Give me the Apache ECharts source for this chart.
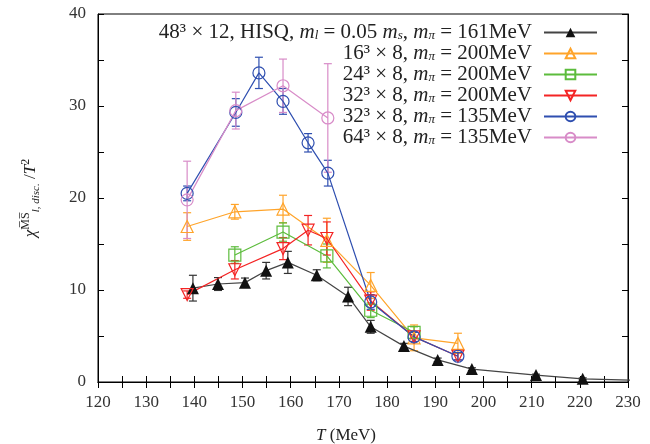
<!DOCTYPE html>
<html>
<head>
<meta charset="utf-8">
<script src="https://cdn.jsdelivr.net/npm/echarts@6/dist/echarts.min.js"></script>
<style>
  html, body { margin: 0; padding: 0; background: #fff; }
  #main { width: 650px; height: 444px; }
</style>
</head>
<body>
<div id="main"></div>
<script>
// 48^3 x 12 HISQ
const T48 = [139.7, 144.9, 150.5, 154.9, 159.4, 165.4, 171.9, 176.6, 183.5, 190.5, 197.6, 210.9, 220.6, 235];
const chi48 = [10.2, 10.65, 10.8, 12.1, 13.0, 11.6, 9.3, 6.0, 3.9, 2.4, 1.4, 0.75, 0.35, 0.15];
const err48 = [1.4, 0.7, 0.5, 0.9, 1.2, 0.6, 1.0, 0.7, 0.3, 0.2, 0.15, 0.1, 0.1, 0];

// 16^3 x 8, 200MeV
const T16 = [138.5, 148.4, 158.4, 167.5, 176.6, 185.6, 194.7];
const chi16 = [16.9, 18.5, 18.8, 15.4, 10.5, 4.8, 4.2];
const err16 = [1.5, 0.8, 1.5, 2.4, 1.4, 1.4, 1.1];

// 24^3 x 8, 200MeV
const T24 = [148.4, 158.4, 167.5, 176.6, 185.6];
const chi24 = [13.8, 16.3, 13.7, 7.8, 5.4];
const err24 = [0.9, 1.0, 1.3, 0.8, 0.6];

// 32^3 x 8, 200MeV
const T32a = [138.5, 148.4, 158.4, 163.6, 167.5, 176.6, 185.6, 194.7];
const chi32a = [9.5, 12.2, 14.5, 16.5, 15.6, 8.8, 4.9, 2.8];
const err32a = [0.4, 1.0, 1.2, 1.6, 1.8, 1.0, 0.5, 0.4];

// 32^3 x 8, 135MeV
const T32b = [138.5, 148.6, 153.4, 158.4, 163.6, 167.7, 176.6, 185.6, 194.7];
const chi32b = [20.5, 29.3, 33.6, 30.5, 26.0, 22.7, 8.7, 4.9, 2.8];
const err32b = [0.8, 1.5, 1.7, 1.4, 1.0, 1.4, 0.8, 0.5, 0.4];

// 64^3 x 8, 135MeV
const T64 = [138.5, 148.6, 158.4, 167.7];
const chi64 = [19.8, 29.5, 32.2, 28.7];
const err64 = [4.2, 2.0, 2.9, 5.9];

const names = ['hisq48', 'n16', 'n24', 'n32a', 'n32b', 'n64'];
const labels = {
  hisq48: '48³ × 12, HISQ, {i|m}{sub|l} = 0.05 {i|m}{sub|s}, {i|m}{sub|π} = 161MeV',
  n16: '16³ × 8, {i|m}{sub|π} = 200MeV',
  n24: '24³ × 8, {i|m}{sub|π} = 200MeV',
  n32a: '32³ × 8, {i|m}{sub|π} = 200MeV',
  n32b: '32³ × 8, {i|m}{sub|π} = 135MeV',
  n64: '64³ × 8, {i|m}{sub|π} = 135MeV'
};

const serif = 'Liberation Serif';

function pairs(xs, ys) { return xs.map((x, i) => [x, ys[i]]); }
function triples(xs, ys, es) { return xs.map((x, i) => [x, ys[i], es[i]]); }

function errBar(params, api) {
  const x = api.value(0), y = api.value(1), e = api.value(2);
  if (!e) return null;
  const top = api.coord([x, y + e]);
  const bot = api.coord([x, y - e]);
  const c = api.visual('color');
  const w = 4;
  const st = { stroke: c, lineWidth: 1.2 };
  return {
    type: 'group',
    children: [
      { type: 'line', shape: { x1: top[0], y1: top[1], x2: bot[0], y2: bot[1] }, style: st },
      { type: 'line', shape: { x1: top[0] - w, y1: top[1], x2: top[0] + w, y2: top[1] }, style: st },
      { type: 'line', shape: { x1: bot[0] - w, y1: bot[1], x2: bot[0] + w, y2: bot[1] }, style: st }
    ]
  };
}

function lineSeries(name, data, color, lineColor, symbol, rotate, filled) {
  return {
    name: name, type: 'line', data: data,
    symbol: symbol, symbolSize: 12, symbolRotate: rotate,
    lineStyle: { color: lineColor, width: 1.2 },
    itemStyle: filled ? { color: color } : { color: 'rgba(255,255,255,0)', borderColor: color, borderWidth: 1.2 },
    z: 4
  };
}
function errSeries(name, data, color) {
  return {
    name: name + '_err', type: 'custom', data: data,
    renderItem: errBar, itemStyle: { color: color },
    encode: { x: 0, y: 1 }, z: 3, clip: true
  };
}

const cBlack = '#111111', cOrange = '#ffa42a', cGreen = '#5cbc3c', cRed = '#f42424', cBlue = '#2f4fb0', cPink = '#d88cc8';

const chart = echarts.init(document.getElementById('main'));
const option = {
  backgroundColor: '#fff',
  animation: false,
  grid: { left: 98, right: 22, top: 14, bottom: 62, show: true, borderColor: '#000', borderWidth: 1, outerBoundsMode: 'none' },
  legend: {
    orient: 'vertical', right: 47, top: 17, align: 'right',
    data: names, itemWidth: 53, itemHeight: 12, itemGap: 0,
    formatter: function (n) { return labels[n]; },
    textStyle: {
      fontFamily: serif, fontSize: 21, color: '#222', padding: [0, 7, 0, 0], lineHeight: 20,
      rich: {
        i: { fontFamily: serif, fontSize: 21, fontStyle: 'italic', color: '#222', lineHeight: 20 },
        sub: { fontFamily: serif, fontSize: 13, fontStyle: 'italic', color: '#222', verticalAlign: 'bottom', lineHeight: 20 }
      }
    }
  },
  xAxis: [{
    type: 'value', min: 120, max: 230, interval: 10,
    name: '{i|T} (MeV)', nameLocation: 'middle', nameGap: 45,
    nameTextStyle: { fontFamily: serif, fontSize: 17, color: '#222', padding: [0, 34, 0, 0], rich: { i: { fontFamily: serif, fontSize: 17, fontStyle: 'italic', color: '#222' } } },
    axisLine: { lineStyle: { color: '#000' } },
    axisTick: { inside: true, length: 6, lineStyle: { color: '#000' } },
    minorTick: { show: true, splitNumber: 2, length: 6, lineStyle: { color: '#000' } },
    axisLabel: { fontFamily: serif, fontSize: 17, color: '#333', margin: 12 },
    splitLine: { show: false }
  }, {
    type: 'value', min: 120, max: 230, interval: 10, position: 'top',
    axisLine: { lineStyle: { color: '#000' } },
    axisTick: { inside: true, length: 6, lineStyle: { color: '#000' } },
    minorTick: { show: true, splitNumber: 2, length: 6, lineStyle: { color: '#000' } },
    axisLabel: { show: false }, splitLine: { show: false }
  }],
  yAxis: [{
    type: 'value', min: 0, max: 40, interval: 10,
    name: '{i|χ}{sup|M̅S̅}{sub|l, disc.} /{i|T}{sup|2}', nameLocation: 'middle', nameGap: 56, nameRotate: 90,
    nameTextStyle: {
      fontFamily: serif, fontSize: 17, color: '#222',
      rich: {
        i: { fontFamily: serif, fontSize: 17, fontStyle: 'italic', color: '#222', lineHeight: 22 },
        sup: { fontFamily: serif, fontSize: 12, color: '#222', verticalAlign: 'top', lineHeight: 22 },
        sub: { fontFamily: serif, fontSize: 11, fontStyle: 'italic', color: '#222', verticalAlign: 'bottom', lineHeight: 22 }
      }
    },
    axisLine: { lineStyle: { color: '#000' } },
    axisTick: { inside: true, length: 6, lineStyle: { color: '#000' } },
    minorTick: { show: true, splitNumber: 2, length: 6, lineStyle: { color: '#000' } },
    axisLabel: { fontFamily: serif, fontSize: 17, color: '#333', margin: 12 },
    splitLine: { show: false }
  }, {
    type: 'value', min: 0, max: 40, interval: 10, position: 'right',
    axisLine: { show: true, lineStyle: { color: '#000' } },
    axisTick: { inside: true, length: 6, lineStyle: { color: '#000' } },
    minorTick: { show: true, splitNumber: 2, length: 6, lineStyle: { color: '#000' } },
    axisLabel: { show: false }, splitLine: { show: false }
  }],
  series: [
    lineSeries('hisq48', pairs(T48, chi48), cBlack, '#444', 'triangle', 0, true),
    lineSeries('n16', pairs(T16, chi16), cOrange, cOrange, 'triangle', 0, false),
    lineSeries('n24', pairs(T24, chi24), cGreen, cGreen, 'rect', 0, false),
    lineSeries('n32a', pairs(T32a, chi32a), cRed, cRed, 'triangle', 180, false),
    lineSeries('n32b', pairs(T32b, chi32b), cBlue, cBlue, 'circle', 0, false),
    lineSeries('n64', pairs(T64, chi64), cPink, cPink, 'circle', 0, false),
    errSeries('hisq48', triples(T48, chi48, err48), '#333'),
    errSeries('n16', triples(T16, chi16, err16), cOrange),
    errSeries('n24', triples(T24, chi24, err24), cGreen),
    errSeries('n32a', triples(T32a, chi32a, err32a), cRed),
    errSeries('n32b', triples(T32b, chi32b, err32b), cBlue),
    errSeries('n64', triples(T64, chi64, err64), cPink)
  ]
};
chart.setOption(option);
</script>
</body>
</html>
